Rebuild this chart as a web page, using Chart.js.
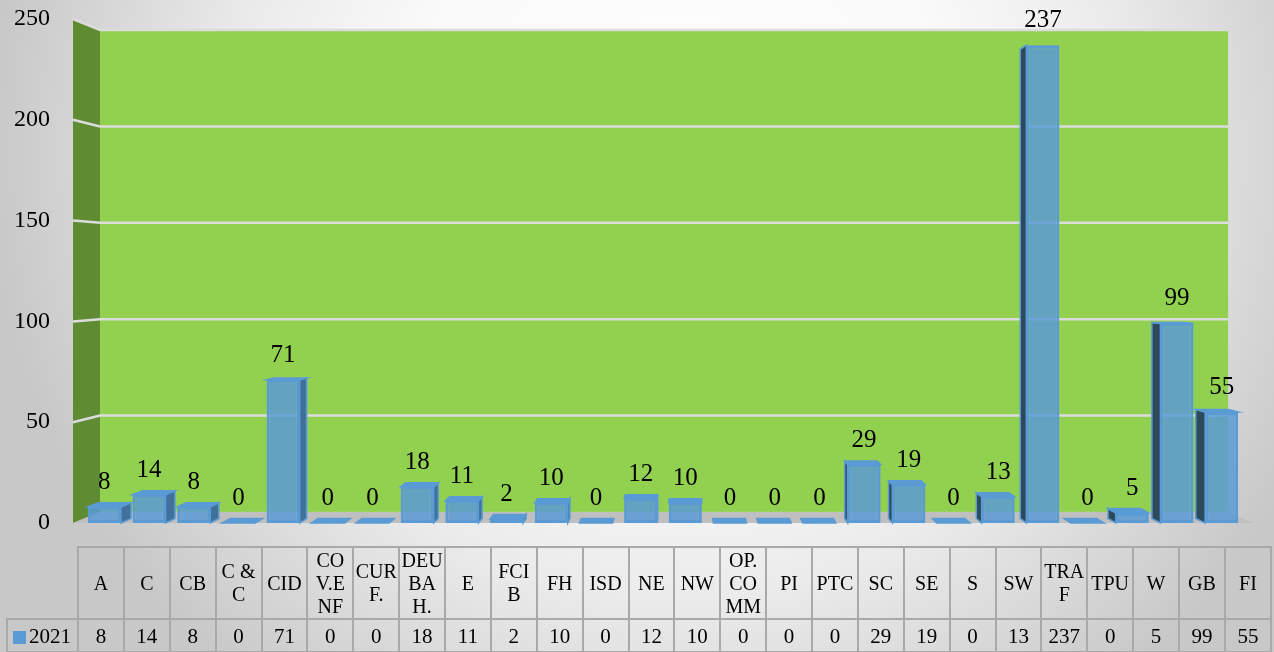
<!DOCTYPE html>
<html>
<head>
<meta charset="utf-8">
<script src="https://cdn.jsdelivr.net/npm/chart.js@4.4.1/dist/chart.umd.min.js"></script>
<style>
html, body { margin: 0; padding: 0; }
body {
    width: 1274px; height: 652px; overflow: hidden; position: relative;
    background: radial-gradient(circle 690px at 680px 150px, #ffffff 0%, #fafafa 40%, #ebebeb 65%, #c8c8c8 100%);
    font-family: 'Liberation Serif', 'Times New Roman', serif;
}
#grafica { position: absolute; left: 0; top: 0; }
#tabla {
    position: absolute; left: 6px; top: 546px; width: 1266px;
    border-collapse: collapse; table-layout: fixed; color: #000;
}
#tabla td { border: 2px solid #a9a9a9; text-align: center; padding: 0; }
#tabla tr.enc td { height: 70px; font-size: 20px; line-height: 23px; }
#tabla tr.val td { height: 31px; font-size: 21px; line-height: 24px; }
#tabla td.vacia { border: none; }
#tabla td.serie { text-align: left; padding-left: 5px; }
.cuadro { display: inline-block; width: 13px; height: 13px; background: #5b9bd5; margin-right: 3px; vertical-align: -1px; }
</style>
</head>
<body>
<canvas id="grafica" width="1274" height="652"></canvas>
<table id="tabla"></table>
<script>
// datos de la grafica
var categorias = [['A'], ['C'], ['CB'], ['C &', 'C'], ['CID'], ['CO', 'V.E', 'NF'], ['CUR', 'F.'], ['DEU', 'BA', 'H.'],
    ['E'], ['FCI', 'B'], ['FH'], ['ISD'], ['NE'], ['NW'], ['OP.', 'CO', 'MM'], ['PI'], ['PTC'], ['SC'], ['SE'],
    ['S'], ['SW'], ['TRA', 'F'], ['TPU'], ['W'], ['GB'], ['FI']];
var serie2021 = [8, 14, 8, 0, 71, 0, 0, 18, 11, 2, 10, 0, 12, 10, 0, 0, 0, 29, 19, 0, 13, 237, 0, 5, 99, 55];
var nombreSerie = '2021';
var ticksY = [0, 50, 100, 150, 200, 250];

Chart.defaults.font.family = "'Liberation Serif', 'Times New Roman', serif";

function poligono(c, pts) {
    c.beginPath();
    c.moveTo(pts[0][0], pts[0][1]);
    for (var i = 1; i < pts.length; i++) c.lineTo(pts[i][0], pts[i][1]);
    c.closePath();
}

// paredes, piso y caras de las barras en "3D"
var caja3d = {
    id: 'caja3d',
    beforeDatasetsDraw: function (chart) {
        var c = chart.ctx, a = chart.chartArea, ejeY = chart.scales.y;
        var vp = { x: a.left + (a.right - a.left) * 0.52, y: (a.top + a.bottom) / 2 };
        var k = 0.956;   // fondo
        var kb = 0.982;  // fondo de las barras
        function px(x, f) { return vp.x + (x - vp.x) * f; }
        function py(y, f) { return vp.y + (y - vp.y) * f; }

        var fl = a.left - 9, fr = a.right + 9, ft = a.top, fb = a.bottom;
        var bl = px(fl, k), br = px(fr, k), bt = py(ft, k), bb = py(fb, k);

        c.save();
        c.fillStyle = '#92d050';
        c.fillRect(bl, bt, br - bl, bb - bt);

        c.fillStyle = '#5f8b33';
        poligono(c, [[fl, ft], [bl, bt], [bl, bb], [fl, fb]]);
        c.fill();

        c.fillStyle = '#bfbfbf';
        poligono(c, [[fl, fb], [fr, fb], [br, bb], [bl, bb]]);
        c.fill();

        c.strokeStyle = '#dcdcdc';
        c.lineWidth = 2.5;
        ejeY.ticks.forEach(function (t) {
            if (t.value === ejeY.min) return;
            var fy = ejeY.getPixelForValue(t.value), by = py(fy, k);
            c.beginPath();
            c.moveTo(fl, fy);
            c.lineTo(bl, by);
            c.lineTo(br, by);
            c.stroke();
        });

        var meta = chart.getDatasetMeta(0);
        c.lineWidth = 1.5;
        c.strokeStyle = '#5b9bd5';
        meta.data.forEach(function (bar) {
            var p = bar.getProps(['x', 'y', 'base', 'width'], true);
            var L = p.x - p.width / 2, R = p.x + p.width / 2, T = p.y, B = p.base;
            var pL = px(L, kb), pR = px(R, kb), pT = py(T, kb), pB = py(B, kb);
            if (R < vp.x) {
                c.fillStyle = '#41709a';
                poligono(c, [[R, T], [pR, pT], [pR, pB], [R, B]]);
                c.fill(); c.stroke();
            } else if (L > vp.x) {
                c.fillStyle = '#2d4a5a';
                poligono(c, [[L, T], [pL, pT], [pL, pB], [L, B]]);
                c.fill(); c.stroke();
            }
            if (T > vp.y) {
                c.fillStyle = '#5b9bd5';
                poligono(c, [[L, T], [R, T], [pR, pT], [pL, pT]]);
                c.fill(); c.stroke();
            }
        });
        c.restore();
    }
};

// valores sobre las barras
var etiquetas = {
    id: 'etiquetas',
    afterDatasetsDraw: function (chart) {
        var c = chart.ctx;
        var datos = chart.data.datasets[0].data;
        c.save();
        c.font = "25px 'Liberation Serif', 'Times New Roman', serif";
        c.fillStyle = '#000';
        c.textAlign = 'center';
        c.textBaseline = 'alphabetic';
        chart.getDatasetMeta(0).data.forEach(function (bar, i) {
            c.fillText(String(datos[i]), bar.x, bar.y - 18);
        });
        c.restore();
    }
};

var ctx = document.getElementById('grafica').getContext('2d');
var grafica = new Chart(ctx, {
    type: 'bar',
    data: {
        labels: categorias,
        datasets: [{
            label: nombreSerie,
            data: serie2021,
            backgroundColor: 'rgba(91,155,213,0.85)',
            borderColor: '#5b9bd5',
            borderWidth: 3,
            borderSkipped: false,
            barPercentage: 0.74,
            categoryPercentage: 1
        }]
    },
    options: {
        responsive: false,
        animation: false,
        layout: { padding: { top: 19, bottom: 129, left: 0, right: 30 } },
        plugins: {
            legend: { display: false },
            tooltip: { enabled: false }
        },
        scales: {
            x: { display: false },
            y: {
                min: ticksY[0],
                max: ticksY[ticksY.length - 1],
                ticks: { stepSize: ticksY[1] - ticksY[0], padding: 24, color: '#000', font: { size: 24 } },
                grid: { display: false },
                border: { display: false },
                afterFit: function (scale) {
                    scale.width = 82;
                    scale.paddingTop = 0;
                    scale.paddingBottom = 0;
                }
            }
        }
    },
    plugins: [caja3d, etiquetas]
});

// tabla de datos bajo la grafica
var html = '<colgroup><col style="width:71px">';
categorias.forEach(function () { html += '<col>'; });
html += '</colgroup><tr class="enc"><td class="vacia"></td>';
categorias.forEach(function (cat) { html += '<td>' + cat.join('<br>') + '</td>'; });
html += '</tr><tr class="val"><td class="serie"><span class="cuadro"></span>' + nombreSerie + '</td>';
serie2021.forEach(function (v) { html += '<td>' + v + '</td>'; });
html += '</tr>';
document.getElementById('tabla').innerHTML = html;
</script>
</body>
</html>
